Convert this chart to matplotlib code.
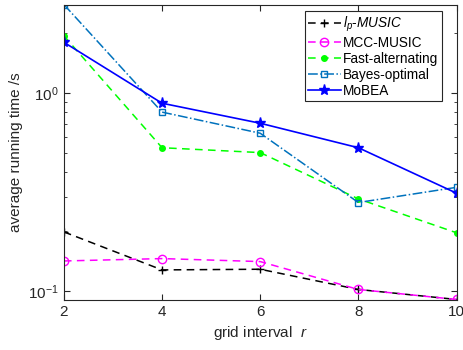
import numpy as np
import matplotlib
matplotlib.use('Agg')
import matplotlib.pyplot as plt

plt.rcParams['font.family'] = ['Liberation Sans', 'DejaVu Sans']
plt.rcParams['mathtext.fontset'] = 'custom'
plt.rcParams['mathtext.rm'] = 'Liberation Sans'
plt.rcParams['mathtext.it'] = 'Liberation Sans:italic'

r = [2, 4, 6, 8, 10]
lp_music = [0.199, 0.128, 0.129, 0.102, 0.0908]
mcc_music = [0.142, 0.146, 0.141, 0.102, 0.0908]
fast_alt = [1.94, 0.529, 0.50, 0.292, 0.197]
bayes_opt = [2.79, 0.80, 0.626, 0.28, 0.334]
mobea = [1.80, 0.887, 0.703, 0.529, 0.312]

fig = plt.figure(figsize=(4.63, 3.5), dpi=100)
ax = fig.add_axes([0.138, 0.143, 0.848, 0.844])

bayes_c = (0, 0.447, 0.741)
dash = (5, 3.5)
ax.plot(r, lp_music, 'k--', dashes=dash, marker='+', ms=6, lw=1.1,
        label=r'$\mathit{l_p}$-$\mathit{MUSIC}$')
ax.plot(r, mcc_music, '--', dashes=dash, color='magenta', marker='o', mfc='none', ms=6, lw=1.1,
        label='MCC-MUSIC')
ax.plot(r, fast_alt, '--', dashes=dash, color=(0, 1, 0), marker='.', ms=8, lw=1.1,
        label='Fast-alternating')
ax.plot(r, bayes_opt, '-.', color=bayes_c, marker='s', mfc='none', ms=5, lw=1.1,
        label='Bayes-optimal')
ax.plot(r, mobea, '-', color='blue', marker='*', ms=8, lw=1.2, label='MoBEA')

ax.set_yscale('log')
ax.set_xlim(2, 10)
ax.set_ylim(0.0903, 2.79)
ax.set_xticks(r)
ax.tick_params(which='both', direction='in', top=True, right=True, labelsize=11, colors='#262626')
ax.tick_params(which='major', length=4)
ax.tick_params(which='minor', length=2)
for s in ax.spines.values():
    s.set_color('#262626')
    s.set_linewidth(0.8)

ax.set_xlabel(r'grid interval  $r$', fontsize=11, color='#262626')
ax.set_ylabel('average running time /s', fontsize=11, color='#262626')

leg = ax.legend(loc='upper right', bbox_to_anchor=(442 / 463, 1 - 11 / 350),
                bbox_transform=fig.transFigure, fontsize=9.8, fancybox=False,
                edgecolor='#262626', framealpha=1, borderpad=0.25, labelspacing=0.15,
                handlelength=2.4, handletextpad=0.2, borderaxespad=0)
leg.get_frame().set_linewidth(0.8)

fig.savefig('out.png', dpi=100)
